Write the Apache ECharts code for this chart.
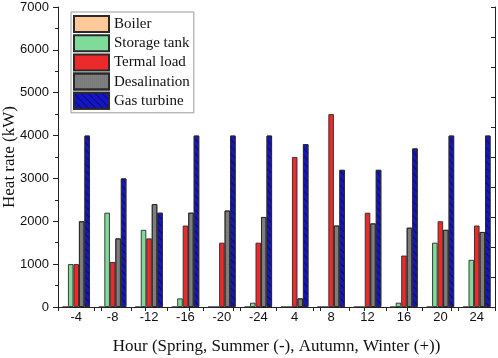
<!DOCTYPE html>
<html>
<head>
<meta charset="utf-8">
<script src="https://cdn.jsdelivr.net/npm/echarts@6/dist/echarts.min.js"></script>
<style>html,body{margin:0;padding:0;background:#fff}#c{width:498px;height:358px}</style>
</head>
<body>
<div id="c"></div>
<script>
var hours = ['-4','-8','-12','-16','-20','-24','4','8','12','16','20','24'];
var boiler      = [0,0,0,0,0,0,0,0,0,0,0,0];
var storageTank = [1000,2200,1800,200,0,100,0,0,0,100,1500,1100];
var termalLoad  = [1000,1050,1600,1900,1500,1500,3500,4500,2200,1200,2000,1900];
var desalination= [2000,1600,2400,2200,2250,2100,200,1900,1950,1850,1800,1750];
var gasTurbine  = [4000,3000,2200,4000,4000,4000,3800,3200,3200,3700,4000,4000];
var yTicks = [0,1000,2000,3000,4000,5000,6000,7000];

var chart = echarts.init(document.getElementById('c'));
var axisColor = '#222';
function mk(name, data, color, decal) {
  var s = {
    name: name, type: 'bar', data: data, xAxisIndex: 0, yAxisIndex: 0,
    barWidth: 5.5, barGap: '0%',
    itemStyle: { color: color, borderColor: '#2a2a2a', borderWidth: 0.9 }
  };
  if (decal) s.itemStyle.decal = decal;
  return s;
}
chart.setOption({
  animation: false,
  grid: { left: 58, right: 3, top: 7, bottom: 51, containLabel: false, outerBoundsMode: 'none' },
  legend: {
    orient: 'vertical', left: 71, top: 12,
    padding: [3, 4, 3, 2],
    itemWidth: 35, itemHeight: 16, itemGap: 1.2,
    borderColor: '#999', borderWidth: 1, backgroundColor: '#fff',
    icon: 'rect',
    textStyle: { fontFamily: 'Liberation Serif', fontSize: 15, color: '#111', lineHeight: 16 },
    data: ['Boiler','Storage tank','Termal load','Desalination','Gas turbine']
  },
  xAxis: [{
    type: 'category', data: hours, position: 'bottom',
    axisLine: { lineStyle: { color: axisColor, width: 1 } },
    axisTick: { show: true, inside: false, length: 4, lineStyle: { color: axisColor } },
    axisLabel: { fontFamily: 'Liberation Sans', fontSize: 13, color: '#111', margin: 4 },
    name: 'Hour (Spring, Summer (-), Autumn, Winter (+))',
    nameLocation: 'middle', nameGap: 40, nameMoveOverlap: false,
    nameTextStyle: { fontFamily: 'Liberation Serif', fontSize: 17, color: '#111', verticalAlign: 'middle' }
  }, {
    type: 'value', position: 'top', min: 0, max: 10, interval: 1,
    axisLine: { show: true, lineStyle: { color: axisColor, width: 1 } },
    axisTick: { show: true, inside: true, length: 4, lineStyle: { color: axisColor } },
    axisLabel: { show: false }, splitLine: { show: false }
  }],
  yAxis: [{
    type: 'value', min: 0, max: 7000, interval: 1000, position: 'left',
    axisLine: { show: true, lineStyle: { color: axisColor, width: 1 } },
    axisTick: { show: true, inside: false, length: 5, lineStyle: { color: axisColor } },
    minorTick: { show: true, splitNumber: 2, length: 3, lineStyle: { color: axisColor } },
    axisLabel: { fontFamily: 'Liberation Sans', fontSize: 13, color: '#111', margin: 9,
      formatter: function (v) { return yTicks.indexOf(v) >= 0 ? String(v) : ''; } },
    splitLine: { show: false },
    name: 'Heat rate (kW)', nameLocation: 'middle', nameGap: 48, nameMoveOverlap: false,
    nameRotate: 90,
    nameTextStyle: { fontFamily: 'Liberation Serif', fontSize: 17, color: '#111', verticalAlign: 'middle' }
  }, {
    type: 'value', position: 'right', min: 0, max: 10, interval: 1,
    axisLine: { show: true, lineStyle: { color: axisColor, width: 1 } },
    axisTick: { show: true, inside: true, length: 4, lineStyle: { color: axisColor } },
    axisLabel: { show: false }, splitLine: { show: false }
  }],
  series: [
    mk('Boiler', boiler, '#FFC899'),
    mk('Storage tank', storageTank, '#80DB9B'),
    mk('Termal load', termalLoad, '#EC2A2C'),
    mk('Desalination', desalination, '#7F7F7F', {
      symbol: 'circle', symbolSize: 0.5, dashArrayX: [1, 1], dashArrayY: [1, 1], color: 'rgba(60,60,60,0.5)'
    }),
    mk('Gas turbine', gasTurbine, '#1515C8', {
      symbol: 'rect', symbolSize: 1, rotation: Math.PI / 4,
      dashArrayX: [1, 0], dashArrayY: [1, 3.5], color: 'rgba(0,0,60,0.6)'
    })
  ]
});
</script>
</body>
</html>
